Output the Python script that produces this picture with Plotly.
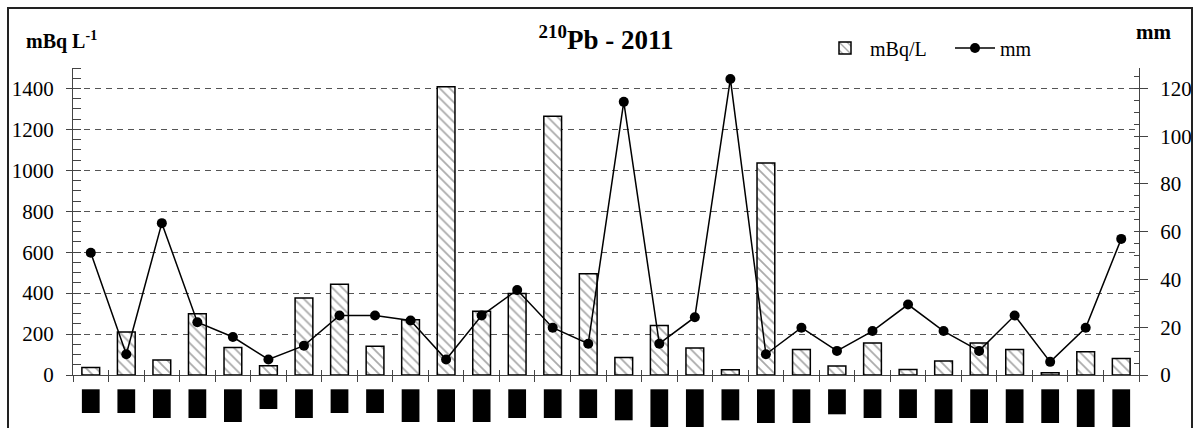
import plotly.graph_objects as go

# sample labels (dates are redacted in the reference: drawn as black boxes)
samples = [str(i) for i in range(1, 31)]
pb210_mBqL = [37, 210, 73, 299, 134, 45, 376, 444, 140, 270, 1408, 311, 398, 1264, 495,
              86, 242, 132, 26, 1036, 124, 44, 156, 27, 69, 156, 124, 11, 113, 81]
rain_mm = [51.2, 8.7, 63.6, 22.1, 15.9, 6.5, 12.3, 24.9, 24.9, 22.8, 6.5, 24.9, 35.6, 19.8, 13.1,
           114.4, 13.1, 24.2, 124, 8.7, 19.8, 10.1, 18.4, 29.5, 18.4, 10.1, 24.9, 5.5, 19.8, 57]
# lengths of the redacted labels below the axis
redacted_len = [23.7, 23.7, 28.7, 28.7, 32.7, 19.7, 28.7, 23.7, 23.7, 32.7, 32.7, 32.7, 28.7, 28.7, 28.7,
                31, 37.7, 37.7, 31, 33.7, 33.7, 25, 28.7, 28.7, 33.7, 33.7, 33.7, 33.7, 37.7, 37.7]

W, H = 1195, 428
L, R, T, B = 73, 56, 68, 0
plot_h = H - T - B
plot_w = W - L - R
strip = 53  # px below x axis
FONT = "Liberation Serif, Times New Roman, Times, serif"

fig = go.Figure()
fig.add_trace(go.Bar(
    x=samples, y=pb210_mBqL, name="mBq/L", width=0.5,
    marker=dict(color="white", line=dict(color="black", width=1.5),
                pattern=dict(shape="\\", fgcolor="#555", bgcolor="white", size=7, solidity=0.25)),
    xaxis="x", yaxis="y"))
fig.add_trace(go.Scatter(
    x=samples, y=rain_mm, name="mm", mode="lines+markers",
    line=dict(color="black", width=1.5), marker=dict(color="black", size=10),
    xaxis="x", yaxis="y2"))
fig.add_trace(go.Bar(
    x=samples, y=[-v for v in redacted_len], base=-14.3, width=0.5,
    marker=dict(color="black", line=dict(width=0)), showlegend=False, hoverinfo="skip",
    xaxis="x2", yaxis="y3"))

dom_bottom = strip / plot_h
axis_col = "#444"
fig.update_layout(
    width=W, height=H, margin=dict(l=L, r=R, t=T, b=B, autoexpand=False),
    paper_bgcolor="white", plot_bgcolor="rgba(0,0,0,0)",
    font=dict(family=FONT, size=21, color="black"),
    bargap=0.5, showlegend=True,
    title=dict(text="<b><sup>210</sup>Pb - 2011</b>", x=0.5, xref="paper", xanchor="center",
               y=1 - 40 / H, yanchor="middle", font=dict(family=FONT, size=27)),
    legend=dict(orientation="h", xref="container", x=820 / W, xanchor="left",
                yref="container", y=1 - 48 / H, yanchor="middle", bgcolor="rgba(0,0,0,0)",
                font=dict(family=FONT, size=20), itemwidth=40, entrywidth=75,
                traceorder="normal"),
    xaxis=dict(type="category", categoryorder="array", categoryarray=samples,
               range=[-0.5, len(samples) - 0.5], anchor="y",
               showline=True, linecolor=axis_col, linewidth=1,
               ticks="outside", ticklen=6, tickcolor=axis_col, tickson="boundaries",
               showticklabels=False, showgrid=False, zeroline=False),
    xaxis2=dict(type="category", categoryorder="array", categoryarray=samples,
                range=[-0.5, len(samples) - 0.5], anchor="y", overlaying="x", side="bottom",
                showline=False, ticks="inside", ticklen=5, tickcolor=axis_col, tickson="boundaries",
                showticklabels=False, showgrid=False, zeroline=False),
    yaxis=dict(domain=[dom_bottom, 1], range=[0, 1500], anchor="x",
               tickvals=[0, 200, 400, 600, 800, 1000, 1200, 1400],
               showline=True, linecolor=axis_col, linewidth=1,
               ticks="outside", ticklen=6, tickcolor=axis_col, ticklabelstandoff=8,
               minor=dict(dtick=50, ticks="inside", ticklen=8, tickcolor=axis_col, showgrid=False),
               showgrid=True, gridcolor="#555", gridwidth=1, griddash="6px,5px",
               zeroline=False),
    yaxis2=dict(domain=[dom_bottom, 1], range=[0, 1500 * 120 / 1400], overlaying="y", side="right",
                anchor="x", tickvals=[0, 20, 40, 60, 80, 100, 120],
                showline=True, linecolor=axis_col, linewidth=1,
                ticks="outside", ticklen=8, tickcolor=axis_col, ticklabelstandoff=8,
                minor=dict(dtick=5, ticks="inside", ticklen=5, tickcolor=axis_col, showgrid=False),
                showgrid=False, zeroline=False),
    yaxis3=dict(domain=[0, dom_bottom], range=[-strip, 0], anchor="x2",
                visible=False, showgrid=False, zeroline=False),
)

# headers
fig.add_annotation(text="<b>mBq L<sup>-1</sup></b>", xref="paper", yref="paper",
                   x=(24 - L) / plot_w, xanchor="left", y=(H - B - 40) / plot_h, yanchor="middle",
                   showarrow=False, font=dict(family=FONT, size=20))
fig.add_annotation(text="<b>mm</b>", xref="paper", yref="paper",
                   x=(1173 - L) / plot_w, xanchor="right", y=(H - B - 32) / plot_h, yanchor="middle",
                   showarrow=False, font=dict(family=FONT, size=21))

# outer frame
fig.add_shape(type="rect", xref="paper", yref="paper",
              x0=(8 - L) / plot_w, x1=(1192 - L) / plot_w,
              y0=(H - B - 440) / plot_h, y1=(H - B - 8) / plot_h,
              line=dict(color="#222", width=2), fillcolor="rgba(0,0,0,0)", layer="above")

fig.write_html("out.html", config={"displayModeBar": False},
               post_script="document.body.style.margin='0';document.body.style.overflow='hidden';")
